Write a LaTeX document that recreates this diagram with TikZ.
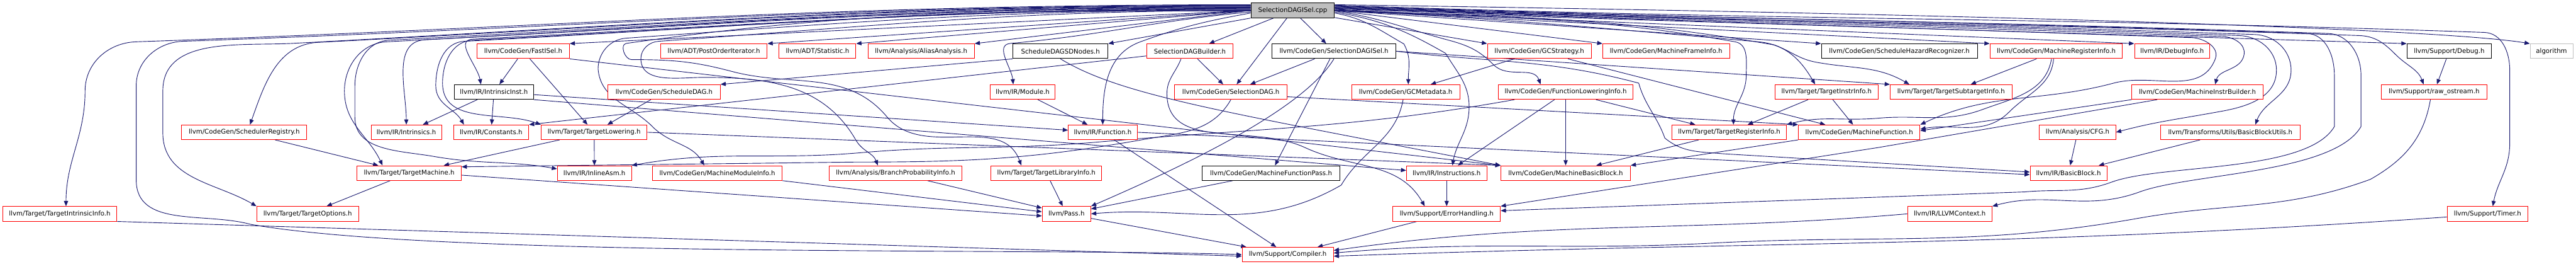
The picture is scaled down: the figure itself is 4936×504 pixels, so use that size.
\documentclass[tikz,border=0pt]{standalone}
\usepackage{fontspec}
\usetikzlibrary{arrows.meta,backgrounds}
\newfontfamily\dvsans{DejaVu Sans}
\newcommand\dgfont{\dvsans\fontsize{12.3}{14}\selectfont}
\definecolor{edgec}{HTML}{191970}
\definecolor{greyc}{HTML}{BFBFBF}
\tikzset{
  nb/.style={draw=red, line width=1.2pt, fill=white, minimum height=28pt, inner xsep=2pt, inner ysep=0pt, font=\dgfont, text=black},
  nk/.style={nb, draw=black},
  ng/.style={nb, draw=greyc},
  nt/.style={nb, draw=black, fill=greyc},
  edge/.style={draw=edgec, line width=1.1pt, -{Triangle[length=10pt,width=8pt]}},
}
\begin{document}
\begin{tikzpicture}[x=1pt,y=1pt]
\useasboundingbox (0,0) rectangle (4936,504);
% row 0
\node[nt, minimum width=160pt] (T) at (2477,484) {SelectionDAGISel.cpp};
% row 1
\node[nb, minimum width=177pt] (FastISel) at (1002.5,406) {llvm/CodeGen/FastISel.h};
\node[nb, minimum width=204pt] (POI) at (1368,406) {llvm/ADT/PostOrderIterator.h};
\node[nb, minimum width=147pt] (Stat) at (1566.5,406) {llvm/ADT/Statistic.h};
\node[nb, minimum width=204pt] (AA) at (1765,406) {llvm/Analysis/AliasAnalysis.h};
\node[nk, minimum width=182pt] (SDN) at (2032,406) {ScheduleDAGSDNodes.h};
\node[nb, minimum width=166pt] (SDB) at (2280,406) {SelectionDAGBuilder.h};
\node[nk, minimum width=238pt] (SDIH) at (2556,406) {llvm/CodeGen/SelectionDAGISel.h};
\node[nb, minimum width=199pt] (GCS) at (2949.5,406) {llvm/CodeGen/GCStrategy.h};
\node[nb, minimum width=243pt] (MFI) at (3192.5,406) {llvm/CodeGen/MachineFrameInfo.h};
\node[nk, minimum width=299pt] (SHR) at (3639.5,406) {llvm/CodeGen/ScheduleHazardRecognizer.h};
\node[nb, minimum width=254pt] (MRI) at (3940,406) {llvm/CodeGen/MachineRegisterInfo.h};
\node[nb, minimum width=144pt] (DbgInfo) at (4162,406) {llvm/IR/DebugInfo.h};
\node[nk, minimum width=162pt] (DbgH) at (4693,406) {llvm/Support/Debug.h};
\node[ng, minimum width=82pt] (Algo) at (4889,406) {algorithm};
% row 2
\node[nk, minimum width=151pt] (IIn) at (946.5,328) {llvm/IR/IntrinsicInst.h};
\node[nb, minimum width=215pt] (SchedDAG) at (1272.5,328) {llvm/CodeGen/ScheduleDAG.h};
\node[nb, minimum width=125pt] (Module) at (1959.5,328) {llvm/IR/Module.h};
\node[nb, minimum width=215pt] (SD) at (2358.5,328) {llvm/CodeGen/SelectionDAG.h};
\node[nb, minimum width=207pt] (GCM) at (2693.5,328) {llvm/CodeGen/GCMetadata.h};
\node[nb, minimum width=258pt] (FLI) at (3000,328) {llvm/CodeGen/FunctionLoweringInfo.h};
\node[nb, minimum width=198pt] (TII) at (3500,328) {llvm/Target/TargetInstrInfo.h};
\node[nb, minimum width=233pt] (TSI) at (3738.5,328) {llvm/Target/TargetSubtargetInfo.h};
\node[nb, minimum width=251pt] (MIB) at (4210.5,328) {llvm/CodeGen/MachineInstrBuilder.h};
\node[nb, minimum width=202pt] (Raw) at (4664,328) {llvm/Support/raw\_ostream.h};
% row 3
\node[nb, minimum width=240pt] (SchedReg) at (468,251) {llvm/CodeGen/SchedulerRegistry.h};
\node[nb, minimum width=135pt] (Intr) at (778.5,251) {llvm/IR/Intrinsics.h};
\node[nb, minimum width=144pt] (Const) at (941,251) {llvm/IR/Constants.h};
\node[nb, minimum width=203pt] (TL) at (1138.5,251) {llvm/Target/TargetLowering.h};
\node[nb, minimum width=132pt] (Func) at (2113,251) {llvm/IR/Function.h};
\node[nb, minimum width=219pt] (TRI) at (3313.5,251) {llvm/Target/TargetRegisterInfo.h};
\node[nb, minimum width=233pt] (MF) at (3562.5,251) {llvm/CodeGen/MachineFunction.h};
\node[nb, minimum width=146pt] (CFG) at (3981,251) {llvm/Analysis/CFG.h};
\node[nb, minimum width=267pt] (BBU) at (4273.5,251) {llvm/Transforms/Utils/BasicBlockUtils.h};
% row 4
\node[nb, minimum width=200pt] (TM) at (784,173) {llvm/Target/TargetMachine.h};
\node[nb, minimum width=142pt] (IAsm) at (1139,173) {llvm/IR/InlineAsm.h};
\node[nb, minimum width=249pt] (MMI) at (1374.5,173) {llvm/CodeGen/MachineModuleInfo.h};
\node[nb, minimum width=254pt] (BPI) at (1716,173) {llvm/Analysis/BranchProbabilityInfo.h};
\node[nb, minimum width=212pt] (TLibI) at (2005,173) {llvm/Target/TargetLibraryInfo.h};
\node[nk, minimum width=263pt] (MFP) at (2435.5,173) {llvm/CodeGen/MachineFunctionPass.h};
\node[nb, minimum width=154pt] (Instr) at (2772,173) {llvm/IR/Instructions.h};
\node[nb, minimum width=248pt] (MBB) at (3000,173) {llvm/CodeGen/MachineBasicBlock.h};
\node[nb, minimum width=147pt] (BB) at (3963.5,173) {llvm/IR/BasicBlock.h};
% row 5
\node[nb, minimum width=219pt] (TIntr) at (114.5,95) {llvm/Target/TargetIntrinsicInfo.h};
\node[nb, minimum width=195pt] (TOpt) at (589.5,95) {llvm/Target/TargetOptions.h};
\node[nb, minimum width=93pt] (Pass) at (2043.5,95) {llvm/Pass.h};
\node[nb, minimum width=206pt] (EH) at (2772,95) {llvm/Support/ErrorHandling.h};
\node[nb, minimum width=162pt] (Ctx) at (3736,95) {llvm/IR/LLVMContext.h};
\node[nb, minimum width=155pt] (Timer) at (4766.5,95) {llvm/Support/Timer.h};
% row 6
\node[nb, minimum width=175pt] (Comp) at (2467.5,17) {llvm/Support/Compiler.h};

\begin{pgfonlayer}{background}
\fill[white] (0,0) rectangle (4936,504);
% ---- top file, row 1
\draw[edge] (T.west) -- (FastISel.north east);
\draw[edge] (T.west) -- (POI.north east);
\draw[edge] (T.west) -- (Stat.north east);
\draw[edge] (T.west) -- (AA.north east);
\draw[edge] (T.south west) -- (SDN.north east);
\draw[edge] (T) -- (SDB);
\draw[edge] (T) -- (SDIH);
\draw[edge] (T) -- (GCS.north west);
\draw[edge] (T.east) -- (MFI.north west);
\draw[edge] (T.east) -- (SHR.north west);
\draw[edge] (T.east) -- (MRI.north west);
\draw[edge] (T.east) -- (DbgInfo.north west);
\draw[edge] (T.east) -- (DbgH.north west);
\draw[edge] ([yshift=11pt]T.east) .. controls (4000,474) and (4700,445) .. (Algo.north west);
% ---- top file, deeper, left side
\draw[edge] ([yshift=11pt]T.west) .. controls +(-834,0) and +(833,29) .. (260,424)
  .. controls +(-53,-2) and +(0,53) .. (163,330)
  .. controls +(0,-87) and +(0,87) .. ([xshift=12pt]TIntr.north);
\draw[edge] ([yshift=10pt]T.west) .. controls +(-799,0) and +(798,28) .. (350,425)
  .. controls +(-48,-2) and +(0,48) .. (261,340) -- (261,160)
  .. controls +(0,-92) and +(-89,24) .. (480,75)
  .. controls +(366,-65) and +(-372,13) .. (Comp.west);
\draw[edge] ([yshift=9pt]T.west) .. controls +(-717,0) and +(716,38) .. (560,421)
  .. controls +(-103,-5) and +(0,103) .. (312,330) -- (312,250)
  .. controls +(0,-89) and +(-77,45) .. (TOpt.north west);
\draw[edge] ([yshift=8pt]T.west) .. controls +(-697,0) and +(696,36) .. (610,423)
  .. controls +(-80,-4) and +(27,75) .. ([xshift=11pt]SchedReg.north);
\draw[edge] ([yshift=7pt]T.west) .. controls +(-647,0) and +(646,34) .. (740,424)
  .. controls +(-48,-3) and +(0,48) .. (660,330)
  .. controls +(0,-63) and +(-27,57) .. ([xshift=-51pt]TM.north);
\draw[edge] ([yshift=6pt]T.west) .. controls +(-645,0) and +(644,34) .. (745,427)
  .. controls +(-42,-2) and +(0,42) .. (680,340) -- (680,280)
  .. controls +(0,-65) and +(-64,11) .. (830,205)
  .. controls +(92,-16) and +(-92,16) .. ([yshift=8pt]IAsm.west);
\draw[edge] ([yshift=5pt]T.west) .. controls +(-617,0) and +(616,32) .. (815,428)
  .. controls +(-65,-3) and +(0,65) .. (Intr.north);
\draw[edge] ([yshift=4pt]T.west) .. controls +(-588,0) and +(587,31) .. (890,425)
  .. controls +(-40,-2) and +(0,40) .. (835,340)
  .. controls +(0,-36) and +(-18,31) .. ([xshift=-52pt]Const.north);
\draw[edge] ([yshift=3pt]T.west) .. controls +(-582,0) and +(581,30) .. (905,427)
  .. controls +(-39,-2) and +(0,39) .. (848,345)
  .. controls +(0,-80) and +(-75,27) .. (TL.north west);
\draw[edge] ([yshift=2pt]T.west) .. controls +(-582,0) and +(581,30) .. (905,429)
  .. controls +(-35,-2) and +(-6,34) .. ([xshift=-25pt]IIn.north);
\draw[edge] ([yshift=1pt]T.west) .. controls +(-467,0) and +(466,33) .. (1200,431)
  .. controls +(-31,-2) and +(0,31) .. (1146,372)
  .. controls +(5,-59) and +(-42,42) .. (1250,262)
  .. controls +(35,-35) and +(-24,42) .. ([xshift=-25pt]MMI.north);
\draw[edge] (T.west) .. controls +(-443,0) and +(442,31) .. (1262,425)
  .. controls +(-18,-1) and +(0,18) .. (1228,392)
  .. controls +(0,-49) and +(-49,0) .. (1349,356)
  .. controls +(123,0) and +(-61,106) .. (1640,236)
  .. controls +(13,-22) and +(-9,24) .. ([xshift=-34pt]BPI.north);
\draw[edge] ([yshift=-1pt]T.west) .. controls +(-468,0) and +(463,65) .. (1200,421)
  .. controls +(-13,-2) and +(-13,0) .. (1210,390)
  .. controls +(75,0) and +(-72,19) .. (1400,368)
  .. controls +(118,-32) and +(-78,93) .. (1700,280)
  .. controls +(69,-82) and +(-37,101) .. ([xshift=-48pt]TLibI.north);
\draw[edge] ([yshift=-3pt]T.west) .. controls +(-180,-16) and +(180,16) .. (1936,421)
  .. controls +(-31,-3) and +(-3,31) .. ([xshift=-18pt]Module.north);
\draw[edge] ([yshift=-5pt]T.west) .. controls +(-84,-15) and +(80,29) .. (2185,424)
  .. controls +(-64,-23) and +(0,68) .. (Func.north);
\draw[edge] (T) -- (SD);
% ---- top file, deeper, right side
\draw[edge] ([yshift=-5pt]T.east) .. controls +(56,-10) and +(-49,28) .. (2690,420)
  .. controls +(15,-27) and +(0,31) .. ([xshift=5pt]GCM.north);
\draw[edge] ([yshift=-3pt]T.east) .. controls +(88,-15) and +(-77,44) .. (2770,402)
  .. controls +(22,-37) and +(0,43) .. (2815,300)
  .. controls +(0,-46) and +(8,45) .. ([xshift=11pt]Instr.north);
\draw[edge] ([yshift=-1pt]T.east) .. controls +(89,-13) and +(-87,23) .. (2780,426)
  .. controls +(36,-10) and +(-26,26) .. (2862,380)
  .. controls +(27,-27) and +(-13,36) .. ([xshift=-48pt]FLI.north);
\draw[edge] ([yshift=1pt]T.east) .. controls +(318,-17) and +(-317,28) .. (3370,424)
  .. controls +(53,-5) and +(-27,46) .. ([xshift=-22pt]TII.north);
\draw[edge] ([yshift=2pt]T.east) .. controls +(330,-17) and +(-325,57) .. (3400,418)
  .. controls +(32,-12) and +(-33,6) .. (3480,385)
  .. controls +(71,-13) and +(-62,36) .. ([xshift=-80pt]TSI.north);
\draw[edge] (T.east) .. controls +(300,-16) and +(-295,52) .. (3325,424)
  .. controls +(26,-5) and +(0,26) .. (3346,360)
  .. controls +(0,-38) and +(0,38) .. ([xshift=8pt]TRI.north);
\draw[edge] ([yshift=3pt]T.east) .. controls +(641,-22) and +(-641,22) .. (4200,432)
  .. controls +(23,-1) and +(8,22) .. (4245,392)
  .. controls +(-27,-73) and +(75,20) .. (4050,345)
  .. controls +(-143,-38) and +(134,63) .. (MF.north east);
\draw[edge] ([yshift=4pt]T.east) .. controls +(665,-23) and +(-665,23) .. (4260,434)
  .. controls +(20,-1) and +(3,20) .. (4300,400)
  .. controls +(-5,-31) and +(8,30) .. ([xshift=34pt]MIB.north);
\draw[edge] ([yshift=5pt]T.east) .. controls +(766,-27) and +(-766,27) .. (4520,436)
  .. controls +(31,-1) and +(-22,22) .. (4590,400)
  .. controls +(22,-22) and +(-11,29) .. ([xshift=-20pt]Raw.north);
\draw[edge] ([yshift=6pt]T.east) .. controls +(676,-24) and +(-676,24) .. (4290,436)
  .. controls +(38,-1) and +(0,38) .. (4362,370)
  .. controls +(0,-54) and +(53,9) .. (4250,290)
  .. controls +(-77,-14) and +(75,20) .. (CFG.east);
\draw[edge] ([yshift=7pt]T.east) .. controls +(688,-24) and +(-688,24) .. (4320,438)
  .. controls +(38,-1) and +(0,38) .. (4390,370)
  .. controls +(0,-49) and +(17,46) .. ([xshift=48pt]BBU.north);
\draw[edge] ([yshift=8pt]T.east) .. controls +(743,-26) and +(-743,26) .. (4460,440)
  .. controls +(40,-1) and +(0,40) .. (4524,360) -- (4524,262)
  .. controls +(-52,-90) and +(98,36) .. (4100,137)
  .. controls +(-104,-38) and +(107,29) .. (Ctx.north east);
\draw[edge] ([yshift=9pt]T.east) .. controls +(727,-25) and +(-727,25) .. (4420,440)
  .. controls +(37,-1) and +(0,37) .. (4473,360) -- (4473,262)
  .. controls +(-52,-89) and +(97,35) .. (4047,156)
  .. controls +(-62,-23) and +(66,6) .. (3880,137) -- ([yshift=6pt]EH.east);
\draw[edge] ([yshift=10pt]T.east) .. controls +(860,-30) and +(-860,30) .. (4760,442)
  .. controls +(34,-1) and +(0,34) .. (4809,370) -- (4809,230)
  .. controls +(0,-49) and +(9,48) .. ([xshift=10pt]Timer.north);
% ---- other includes
\draw[edge] (SchedReg) -- (TM);
\draw[edge] (TM) -- (TOpt);
\draw[edge] ([yshift=-4pt]TM.east) -- ([yshift=-4pt]Pass.west);
\draw[edge] (TIntr.south east) -- ([yshift=-3pt]Comp.west);
\draw[edge] (FastISel) -- (IIn);
\draw[edge] (FastISel) -- (TL);
\draw[edge] (FastISel.south east) -- (MBB.north west);
\draw[edge] (IIn) -- (Intr);
\draw[edge] (IIn) -- (Const);
\draw[edge] ([yshift=-5pt]IIn.east) -- ([yshift=4pt]Func.west);
\draw[edge] (IIn.south east) -- ([yshift=5pt]Instr.west);
\draw[edge] (SchedDAG) -- (TL);
\draw[edge] (TL) -- (TM);
\draw[edge] (TL) -- (IAsm);
\draw[edge] (TL.east) -- (MBB.north west);
\draw[edge] (SDN.south west) -- (SchedDAG.north east);
\draw[edge] (SDN.south) .. controls (2150,320) and (2350,290) .. (MBB.north west);
\draw[edge] (SDB) -- (SD);
\draw[edge] ([yshift=-9pt]SDB.west) -- (Const.north east);
\draw[edge] ([xshift=-17pt]SDB.south) .. controls +(-10,-26) and +(0,28) .. (2236,325)
  .. controls +(0,-110) and +(-100,46) .. (2500,222)
  .. controls +(91,-42) and +(-50,87) .. ([xshift=-42pt]EH.north);
\draw[edge] (SDIH) -- (SD);
\draw[edge] (SDIH.south) .. controls (2500,300) and (2300,200) .. (Pass.north east);
\draw[edge] (SDIH) -- (MFP);
\draw[edge] (SDIH.east) -- (TSI.north west);
\draw[edge] (SDIH.east) .. controls +(182,-22) and +(-177,47) .. (3140,345)
  .. controls +(12,-43) and +(-15,42) .. (3190,240)
  .. controls +(34,-28) and +(-44,4) .. (3300,210) -- ([yshift=2pt]BB.west);
\draw[edge] (GCS) -- (GCM);
\draw[edge] ([xshift=55pt]GCS.south) -- ([xshift=-65pt]MF.north);
\draw[edge] (MRI) -- (TSI);
\draw[edge] ([xshift=-5pt]MRI.south) .. controls +(-5,-52) and +(37,37) .. (3850,290)
  .. controls +(-48,-48) and +(67,12) .. ([yshift=6pt]MF.east);
\draw[edge] ([xshift=-9pt]MRI.south) .. controls +(-11,-63) and +(60,22) .. (3800,295)
  .. controls +(-73,-27) and +(78,7) .. (3600,278)
  .. controls +(-69,-6) and +(67,18) .. (TRI.north east);
\draw[edge] (Module) -- (Func);
\draw[edge] (SD.south) .. controls +(-35,-61) and +(69,12) .. (2196,238)
  .. controls +(-215,-38) and +(218,0) .. (1640,194) -- ([yshift=12pt]TM.east);
\draw[edge] ([yshift=-9pt]SD.east) -- (MF.north west);
\draw[edge] (Func.east) -- ([yshift=-3pt]BB.west);
\draw[edge] (Func) -- (Comp);
\draw[edge] (MFP) -- (Pass);
\draw[edge] (BPI) -- (Pass);
\draw[edge] (TLibI) -- (Pass);
\draw[edge] (MMI.south east) -- ([yshift=4pt]Pass.west);
\draw[edge] ([xshift=-5pt]GCM.south) .. controls +(-14,-78) and +(40,68) .. (2570,150)
  .. controls +(-163,-94) and +(187,16) .. (Pass.east);
\draw[edge] (Pass) -- (Comp);
\draw[edge] (EH) -- (Comp);
\draw[edge] (Instr) -- (EH);
\draw[edge] (FLI) -- (Instr);
\draw[edge] (FLI) -- (MBB);
\draw[edge] ([xshift=58pt]FLI.south) -- ([xshift=-65pt]TRI.north);
\draw[edge] ([xshift=-98pt]FLI.south) .. controls +(-309,-55) and +(313,27) .. (2100,232)
  .. controls +(-175,-15) and +(175,15) .. (1650,212)
  .. controls +(-171,-15) and +(169,30) .. (IAsm.north east);
\draw[edge] (TII) -- (TRI);
\draw[edge] (TII) -- (MF);
\draw[edge] (MIB.south west) -- ([yshift=3pt]MF.east);
\draw[edge] ([xshift=-77pt]MIB.south) -- (3600,222) -- (EH.north east);
\draw[edge] (TRI) -- (MBB);
\draw[edge] (MF.south west) -- (MBB.north east);
\draw[edge] (CFG) -- (BB);
\draw[edge] (BBU) -- (BB);
\draw[edge] (DbgH) -- (Raw);
\draw[edge] ([xshift=-7pt]Raw.south) .. controls +(-13,-74) and +(65,37) .. (4542,161)
  .. controls +(-164,-60) and +(172,30) .. (4100,87)
  .. controls +(-315,-56) and +(320,17) .. (3280,39)
  .. controls +(-283,-15) and +(282,25) .. ([yshift=3pt]Comp.east);
\draw[edge] ([yshift=-6pt]Timer.west) .. controls +(-831,-58) and +(832,29) .. ([yshift=-3pt]Comp.east);
\draw[edge] (Ctx.west) .. controls +(-428,-37) and +(426,60) .. ([yshift=8pt]Comp.east);
\end{pgfonlayer}
\end{tikzpicture}
\end{document}
